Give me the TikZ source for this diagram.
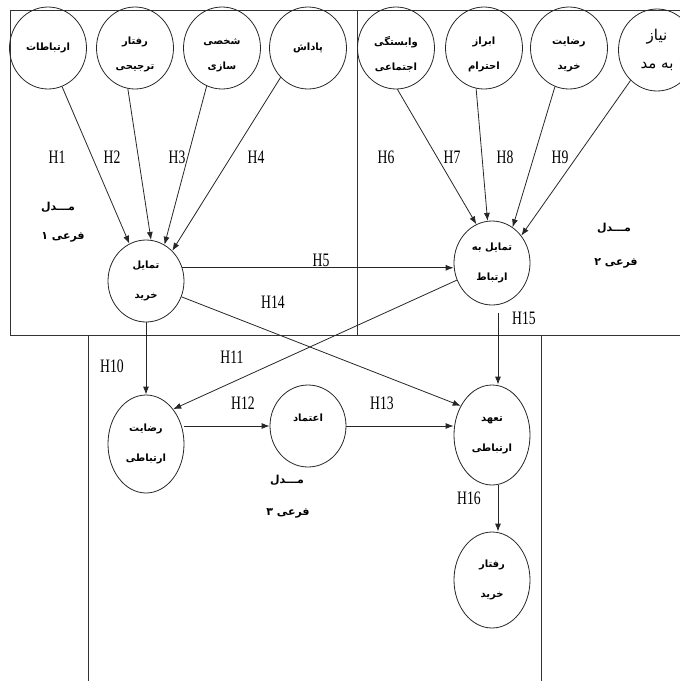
\documentclass[tikz,border=0pt]{standalone}
\usepackage{fontspec}
\usetikzlibrary{shapes.geometric, arrows.meta}
\TeXXeTstate=1
\newfontfamily\farsi[Script=Arabic]{DejaVu Sans}
\newfontfamily\hfont[FakeStretch=0.72]{Liberation Serif}
\newcommand{\fa}[1]{\beginR #1\endR}
\newcommand{\lowtext}{\rule{0pt}{21pt}}
\tikzset{
  frame/.style={
    draw=black!80,
    line width=0.9pt
  },
  construct/.style={
    ellipse,
    draw=black!85,
    line width=0.8pt,
    minimum width=76pt,
    minimum height=82pt,
    inner sep=0pt,
    align=center,
    font=\fontsize{10}{30}\selectfont\farsi\bfseries
  },
  factor/.style={
    construct,
    minimum width=77pt,
    minimum height=82pt,
    font=\fontsize{10}{25}\selectfont\farsi\bfseries
  },
  path arrow/.style={
    -{Latex[length=8pt, width=6pt]},
    draw=black!85,
    line width=0.8pt
  },
  hyp/.style={
    inner sep=0pt,
    font=\fontsize{19}{19}\selectfont\hfont
  },
  model label/.style={
    inner sep=0pt,
    font=\fontsize{11}{11}\selectfont\farsi\bfseries
  }
}
\begin{document}
\begin{tikzpicture}[x=1pt, y=-1pt]
    \useasboundingbox (0,0) rectangle (680,681);
    \clip (0,0) rectangle (680,681);

    % frames of the three sub-models
    \draw[frame] (10,335) -- (10,10) -- (680,10);
    \draw[frame] (10,335) -- (680,335);
    \draw[frame] (357,10) -- (357,335);
    \draw[frame] (88,335) -- (88,681);
    \draw[frame] (541,335) -- (541,681);

    % top row of factors
    \foreach \i/\x/\txt in {1/48/{\fa{ارتباطات}},
                            2/135/{\lowtext\fa{رفتار}\\\fa{ترجیحی}},
                            3/222/{\lowtext\fa{شخصی}\\\fa{سازی}},
                            4/308/{\fa{پاداش}},
                            5/396/{\lowtext\fa{وابستگی}\\\fa{اجتماعی}},
                            6/484/{\lowtext\fa{ابراز}\\\fa{احترام}},
                            7/569/{\lowtext\fa{رضایت}\\\fa{خرید}}} {
      \node[factor] (c\i) at (\x,48) {\txt};
    }
    \node[factor, font=\fontsize{15}{28}\selectfont\farsi] (c8) at (657,50)
      {\fa{نیاز}\\\fa{به مد}};

    % main constructs
    \node[construct] (buy) at (146,281) {\fa{تمایل}\\\fa{خرید}};
    \node[construct, minimum height=84pt] (intent) at (492,263) {\fa{تمایل به}\\\fa{ارتباط}};
    \node[construct, minimum height=98pt] (relation) at (146,444) {\fa{رضایت}\\\fa{ارتباطی}};
    \node[construct] (trust) at (308,426) {\fa{اعتماد}\\[-14pt]};
    \node[construct, minimum height=100pt] (commit) at (492,435) {\fa{تعهد}\\\fa{ارتباطی}};
    \node[construct, minimum height=96pt] (behav) at (492,580) {\fa{رفتار}\\\fa{خرید}};

    % paths of sub-model 1 and 2
    \foreach \i/\a/\b in {1/290/114, 2/260/83, 3/248/63, 4/227/49} {
      \draw[path arrow] (c\i.\a) -- (buy.\b);
    }
    \foreach \i/\a/\b in {5/272/112, 6/259/96, 7/250/60, 8/229/43} {
      \draw[path arrow] (c\i.\a) -- (intent.\b);
    }
    \draw[path arrow] (buy.20) -- (buy.20 -| intent.west);
    \draw[path arrow] (buy.336) -- (commit.137);
    \draw[path arrow] (intent.206) -- (relation.52);
    \draw[path arrow] (buy.south) -- (relation.north);
    \draw[path arrow, shorten <=8pt] ([xshift=6pt]intent.south) -- ([xshift=6pt]commit.north);

    % paths of sub-model 3
    \draw[path arrow] (relation.east |- trust.west) -- (trust.west);
    \draw[path arrow] (trust.east) -- (commit.west |- trust.east);
    \draw[path arrow] ([xshift=6pt]commit.south) -- ([xshift=6pt]behav.north);

    % hypothesis labels
    \foreach \n/\x/\y in {1/57/157, 2/112/157, 3/177/157, 4/256/157,
                          6/386/157, 7/452/157, 8/505/157, 9/560/157,
                          5/321/260, 14/273/302, 15/524/318, 10/112/366,
                          11/232/357, 12/243/403, 13/382/403, 16/469/498} {
      \node[hyp] (h\n) at (\x,\y) {H\n};
    }

    % sub-model names
    \node[model label] (m1a) at (58,207) {\fa{مـــدل}};
    \node[model label] (m1b) at (63,237) {\fa{فرعی ۱}};
    \node[model label] (m2a) at (614,228) {\fa{مـــدل}};
    \node[model label] (m2b) at (616,263) {\fa{فرعی ۲}};
    \node[model label] (m3a) at (287,480) {\fa{مـــدل}};
    \node[model label] (m3b) at (288,513) {\fa{فرعی ۳}};

\end{tikzpicture}
\end{document}
